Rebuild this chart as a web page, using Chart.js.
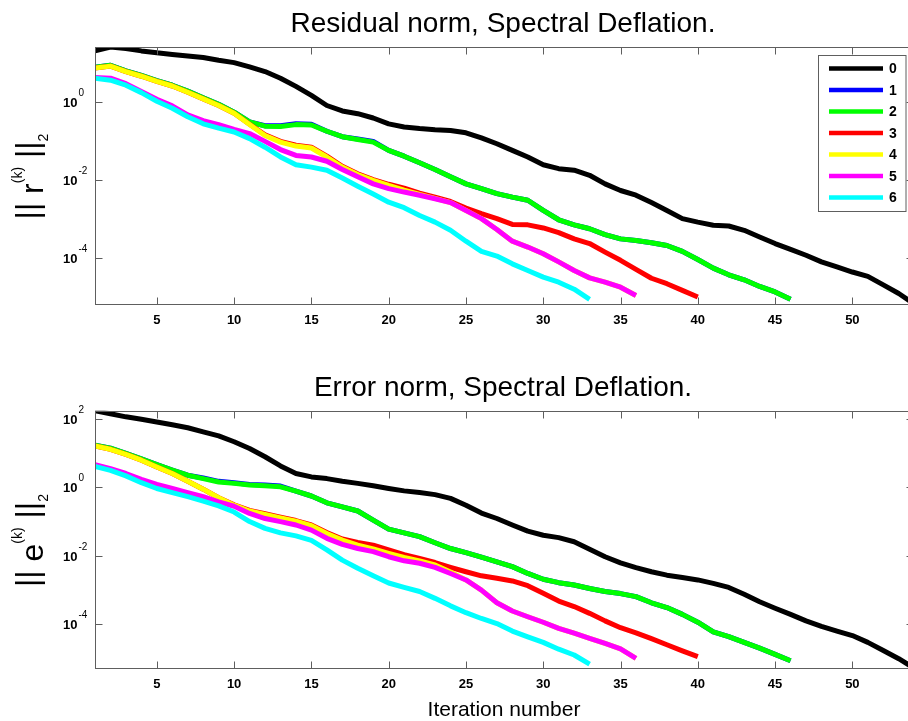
<!DOCTYPE html>
<html><head><meta charset="utf-8">
<script src="https://cdn.jsdelivr.net/npm/chart.js@4.4.0/dist/chart.umd.min.js"></script>
<style>
html,body{margin:0;padding:0;background:#fff;overflow:hidden}
#wrap{position:relative;width:908px;height:721px;overflow:hidden;background:#fff}
canvas{position:absolute;left:0}
</style></head><body>
<div id="wrap">
<canvas id="c1" width="920" height="360" style="top:0"></canvas>
<canvas id="c2" width="920" height="361" style="top:360px"></canvas>
</div>
<script>
// ---------------- data ----------------
const iterations = [1,2,3,4,5,6,7,8,9,10,11,12,13,14,15,16,17,18,19,20,21,22,23,24,25,26,27,28,29,30,31,32,33,34,35,36,37,38,39,40,41,42,43,44,45,46,47,48,49,50,51,52,53,54];
const seriesNames = ['0','1','2','3','4','5','6'];
const seriesColors = ['#000000','#0000ff','#00ff00','#ff0000','#ffff00','#ff00ff','#00ffff'];
const xTickLabels = [5,10,15,20,25,30,35,40,45,50];
const resYTickExponents = [0,-2,-4];
const errYTickExponents = [2,0,-2,-4];

// Residual norm, log10 values
const res0Log10 = [1.32,1.42,1.38,1.32,1.27,1.23,1.19,1.15,1.08,1.02,0.91,0.79,0.62,0.41,0.18,-0.08,-0.22,-0.29,-0.40,-0.55,-0.63,-0.67,-0.70,-0.72,-0.78,-0.91,-1.06,-1.23,-1.40,-1.60,-1.70,-1.74,-1.87,-2.09,-2.26,-2.38,-2.57,-2.77,-2.98,-3.07,-3.15,-3.17,-3.28,-3.45,-3.62,-3.77,-3.92,-4.09,-4.22,-4.35,-4.46,-4.68,-4.90,-5.17];
const res1Log10 = [0.90,0.95,0.81,0.69,0.56,0.44,0.29,0.12,-0.05,-0.25,-0.50,-0.60,-0.60,-0.55,-0.56,-0.74,-0.88,-0.94,-1.00,-1.23,-1.38,-1.55,-1.72,-1.91,-2.09,-2.21,-2.34,-2.43,-2.51,-2.77,-3.01,-3.14,-3.24,-3.39,-3.50,-3.54,-3.60,-3.67,-3.82,-4.03,-4.25,-4.42,-4.55,-4.72,-4.86,-5.05];
const res2Log10 = [0.90,0.95,0.81,0.69,0.56,0.44,0.29,0.12,-0.05,-0.25,-0.50,-0.61,-0.62,-0.57,-0.58,-0.74,-0.88,-0.95,-1.02,-1.23,-1.38,-1.55,-1.72,-1.91,-2.09,-2.21,-2.34,-2.43,-2.51,-2.77,-3.01,-3.14,-3.24,-3.39,-3.50,-3.54,-3.60,-3.67,-3.82,-4.03,-4.25,-4.42,-4.55,-4.72,-4.86,-5.05];
const res3Log10 = [0.88,0.93,0.79,0.67,0.54,0.42,0.26,0.09,-0.08,-0.28,-0.56,-0.83,-1.00,-1.10,-1.15,-1.38,-1.64,-1.83,-1.98,-2.10,-2.20,-2.33,-2.43,-2.54,-2.71,-2.85,-2.98,-3.13,-3.14,-3.22,-3.34,-3.50,-3.62,-3.84,-4.05,-4.28,-4.51,-4.65,-4.82,-4.99];
const res4Log10 = [0.88,0.93,0.79,0.67,0.54,0.42,0.26,0.09,-0.08,-0.28,-0.57,-0.85,-1.02,-1.12,-1.17,-1.40,-1.66,-1.85,-2.00,-2.13,-2.25,-2.36,-2.46,-2.57,-2.77,-2.98,-3.26,-3.56,-3.71,-3.88,-4.09,-4.31,-4.50,-4.61,-4.74,-4.95];
const res5Log10 = [0.64,0.62,0.48,0.28,0.08,-0.09,-0.32,-0.47,-0.57,-0.69,-0.80,-1.00,-1.21,-1.36,-1.40,-1.51,-1.72,-1.91,-2.09,-2.21,-2.30,-2.38,-2.47,-2.57,-2.77,-2.98,-3.26,-3.56,-3.71,-3.88,-4.09,-4.31,-4.50,-4.61,-4.74,-4.95];
const res6Log10 = [0.62,0.57,0.44,0.25,0.03,-0.15,-0.37,-0.55,-0.66,-0.76,-0.93,-1.15,-1.40,-1.60,-1.66,-1.74,-1.94,-2.15,-2.35,-2.56,-2.70,-2.90,-3.07,-3.28,-3.56,-3.82,-3.94,-4.14,-4.31,-4.48,-4.61,-4.79,-5.05];

// Error norm, log10 values
const err0Log10 = [2.25,2.16,2.07,2.00,1.92,1.84,1.75,1.63,1.51,1.34,1.14,0.90,0.63,0.41,0.31,0.26,0.18,0.12,0.05,-0.03,-0.10,-0.15,-0.21,-0.32,-0.52,-0.75,-0.91,-1.10,-1.28,-1.40,-1.47,-1.59,-1.81,-2.03,-2.21,-2.35,-2.47,-2.57,-2.64,-2.71,-2.81,-2.93,-3.13,-3.35,-3.54,-3.72,-3.91,-4.07,-4.21,-4.34,-4.54,-4.78,-5.02,-5.30];
const err1Log10 = [1.24,1.15,1.00,0.84,0.67,0.51,0.36,0.28,0.18,0.14,0.09,0.07,0.04,-0.11,-0.25,-0.45,-0.57,-0.69,-0.96,-1.22,-1.33,-1.44,-1.62,-1.79,-1.91,-2.04,-2.18,-2.32,-2.52,-2.69,-2.79,-2.86,-2.96,-3.05,-3.11,-3.20,-3.38,-3.52,-3.72,-3.95,-4.23,-4.37,-4.54,-4.71,-4.89,-5.08];
const err2Log10 = [1.24,1.15,1.00,0.84,0.67,0.51,0.36,0.26,0.16,0.12,0.07,0.05,0.02,-0.11,-0.25,-0.45,-0.57,-0.69,-0.96,-1.22,-1.33,-1.44,-1.62,-1.79,-1.91,-2.04,-2.18,-2.32,-2.52,-2.69,-2.79,-2.86,-2.96,-3.05,-3.11,-3.20,-3.38,-3.52,-3.72,-3.95,-4.23,-4.37,-4.54,-4.71,-4.89,-5.08];
const err3Log10 = [1.22,1.12,0.97,0.80,0.60,0.41,0.18,-0.05,-0.30,-0.51,-0.67,-0.77,-0.87,-0.97,-1.10,-1.32,-1.51,-1.61,-1.69,-1.83,-1.97,-2.08,-2.20,-2.34,-2.47,-2.59,-2.66,-2.74,-2.88,-3.10,-3.33,-3.49,-3.69,-3.91,-4.11,-4.26,-4.43,-4.61,-4.79,-4.96];
const err4Log10 = [1.22,1.12,0.97,0.80,0.60,0.41,0.18,-0.05,-0.30,-0.52,-0.69,-0.79,-0.89,-0.99,-1.12,-1.35,-1.54,-1.69,-1.80,-1.93,-2.05,-2.15,-2.27,-2.48,-2.71,-3.01,-3.38,-3.62,-3.79,-3.95,-4.13,-4.27,-4.42,-4.57,-4.73,-5.01];
const err5Log10 = [0.67,0.55,0.41,0.24,0.09,-0.03,-0.15,-0.27,-0.42,-0.55,-0.76,-0.91,-1.00,-1.10,-1.25,-1.49,-1.67,-1.79,-1.88,-2.03,-2.15,-2.22,-2.34,-2.52,-2.71,-3.01,-3.38,-3.62,-3.79,-3.95,-4.13,-4.27,-4.42,-4.57,-4.73,-5.01];
const err6Log10 = [0.62,0.50,0.34,0.14,-0.03,-0.15,-0.27,-0.40,-0.54,-0.72,-1.00,-1.20,-1.33,-1.42,-1.55,-1.83,-2.13,-2.37,-2.59,-2.80,-2.93,-3.05,-3.25,-3.47,-3.67,-3.84,-3.99,-4.21,-4.38,-4.54,-4.74,-4.91,-5.18];

// ---------------- drawing ----------------
const FRAME = '#5e5e5e';
const TICK = 7;
const FONT = '"Liberation Sans", Arial, Helvetica, sans-serif';

function makeDatasets(arrays) {
  return arrays.map((arr, i) => ({
    label: seriesNames[i],
    data: arr.map((v, k) => ({ x: iterations[k], y: Math.pow(10, v) })),
    borderColor: seriesColors[i],
    backgroundColor: seriesColors[i],
    borderWidth: 5,
    pointRadius: 0,
    pointHoverRadius: 0,
    fill: false,
    tension: 0,
    borderJoinStyle: 'round',
    borderCapStyle: 'butt',
    clip: 0,
    order: arrays.length - 1 - i
  }));
}

function drawYLabel(ctx, letter, cx, cy) {
  ctx.save();
  ctx.translate(cx, cy);
  ctx.rotate(-Math.PI / 2);
  const big = '32px ' + FONT, small = '14px ' + FONT;
  const parts = [
    { t: '|| ', f: big, dy: -5 },
    { t: letter, f: big, dy: 0 },
    { t: '(k)', f: small, dy: -21 },
    { t: ' ||', f: big, dy: -5 },
    { t: '2', f: small, dy: 5 }
  ];
  let total = 0;
  parts.forEach(p => { ctx.font = p.f; p.w = ctx.measureText(p.t).width; total += p.w; });
  let x = -total / 2;
  ctx.fillStyle = '#000';
  ctx.textAlign = 'left';
  ctx.textBaseline = 'alphabetic';
  parts.forEach(p => { ctx.font = p.f; ctx.fillText(p.t, x, p.dy); x += p.w; });
  ctx.restore();
}

function decorPlugin(cfg) {
  return {
    id: 'decor_' + cfg.key,
    afterDatasetsDraw(chart) {
      const { ctx, chartArea: a, scales } = chart;
      const xs = scales.x, ys = scales.y;
      ctx.save();
      const L = Math.round(a.left) + 0.5, R = Math.round(a.right) - 0.5;
      const T = Math.round(a.top) + 0.5, B = Math.round(a.bottom) + 0.5;
      ctx.strokeStyle = FRAME;
      ctx.lineWidth = 1;
      ctx.strokeRect(L, T, R - L, B - T);
      ctx.beginPath();
      xTickLabels.forEach(v => {
        const px = Math.round(xs.getPixelForValue(v)) + 0.5;
        ctx.moveTo(px, B); ctx.lineTo(px, B - TICK);
        ctx.moveTo(px, T); ctx.lineTo(px, T + TICK);
      });
      cfg.yExps.forEach(e => {
        const py = Math.round(ys.getPixelForValue(Math.pow(10, e))) + 0.5;
        ctx.moveTo(L, py); ctx.lineTo(L + TICK, py);
        ctx.moveTo(R, py); ctx.lineTo(R - TICK, py);
      });
      ctx.stroke();

      // x tick labels
      ctx.fillStyle = '#000';
      ctx.font = 'bold 13px ' + FONT;
      ctx.textAlign = 'center';
      ctx.textBaseline = 'alphabetic';
      xTickLabels.forEach(v => {
        ctx.fillText(String(v), xs.getPixelForValue(v), a.bottom + 20);
      });

      // y tick labels 10^e
      cfg.yExps.forEach(e => {
        const py = ys.getPixelForValue(Math.pow(10, e));
        ctx.font = 'bold 13px ' + FONT;
        ctx.textAlign = 'right';
        ctx.fillText('10', 77.5, py + 5);
        ctx.font = '10px ' + FONT;
        ctx.textAlign = 'left';
        ctx.fillText(String(e), 78.5, py - 6);
      });

      // title
      ctx.font = '28px ' + FONT;
      ctx.textAlign = 'center';
      ctx.fillText(cfg.title, 503, cfg.titleY);

      // y label
      drawYLabel(ctx, cfg.letter, 42.5, (a.top + a.bottom) / 2 + 1);

      // x label
      if (cfg.xlabel) {
        ctx.font = '21px ' + FONT;
        ctx.textAlign = 'center';
        ctx.fillText(cfg.xlabel, 504, cfg.xlabelY);
      }

      // legend
      if (cfg.legend) {
        const bx = 818.5, by = 55.5, bw = 87.5, bh = 156;
        ctx.fillStyle = '#fff';
        ctx.fillRect(bx, by, bw, bh);
        ctx.strokeStyle = FRAME;
        ctx.lineWidth = 1;
        ctx.strokeRect(bx, by, bw, bh);
        chart.data.datasets.forEach((ds, i) => {
          const yy = 68.5 + i * 21.5;
          ctx.strokeStyle = ds.borderColor;
          ctx.lineWidth = 4.5;
          ctx.beginPath();
          ctx.moveTo(829, yy); ctx.lineTo(883, yy);
          ctx.stroke();
          ctx.fillStyle = '#000';
          ctx.font = 'bold 14px ' + FONT;
          ctx.textAlign = 'left';
          ctx.textBaseline = 'middle';
          ctx.fillText(ds.label, 889, yy + 1);
        });
      }
      ctx.restore();
    }
  };
}

function makeChart(canvasId, arrays, yMinExp, yMaxExp, padding, cfg) {
  return new Chart(document.getElementById(canvasId), {
    type: 'line',
    data: { datasets: makeDatasets(arrays) },
    options: {
      responsive: false,
      animation: false,
      devicePixelRatio: 1,
      events: [],
      layout: { padding },
      plugins: { legend: { display: false }, tooltip: { enabled: false }, title: { display: false } },
      scales: {
        x: { type: 'linear', min: 1, max: 54, display: false },
        y: { type: 'logarithmic', min: Math.pow(10, yMinExp), max: Math.pow(10, yMaxExp), display: false }
      }
    },
    plugins: [decorPlugin(cfg)]
  });
}

makeChart('c1',
  [res0Log10, res1Log10, res2Log10, res3Log10, res4Log10, res5Log10, res6Log10],
  -5.17, 1.42,
  { left: 95, top: 47, right: 5.8, bottom: 56 },
  { key: 'res', yExps: resYTickExponents, title: 'Residual norm, Spectral Deflation.', titleY: 32, letter: 'r', legend: true });

makeChart('c2',
  [err0Log10, err1Log10, err2Log10, err3Log10, err4Log10, err5Log10, err6Log10],
  -5.30, 2.25,
  { left: 95, top: 50.7, right: 5.8, bottom: 52.7 },
  { key: 'err', yExps: errYTickExponents, title: 'Error norm, Spectral Deflation.', titleY: 36, letter: 'e', legend: false, xlabel: 'Iteration number', xlabelY: 356 });
</script>
</body></html>
